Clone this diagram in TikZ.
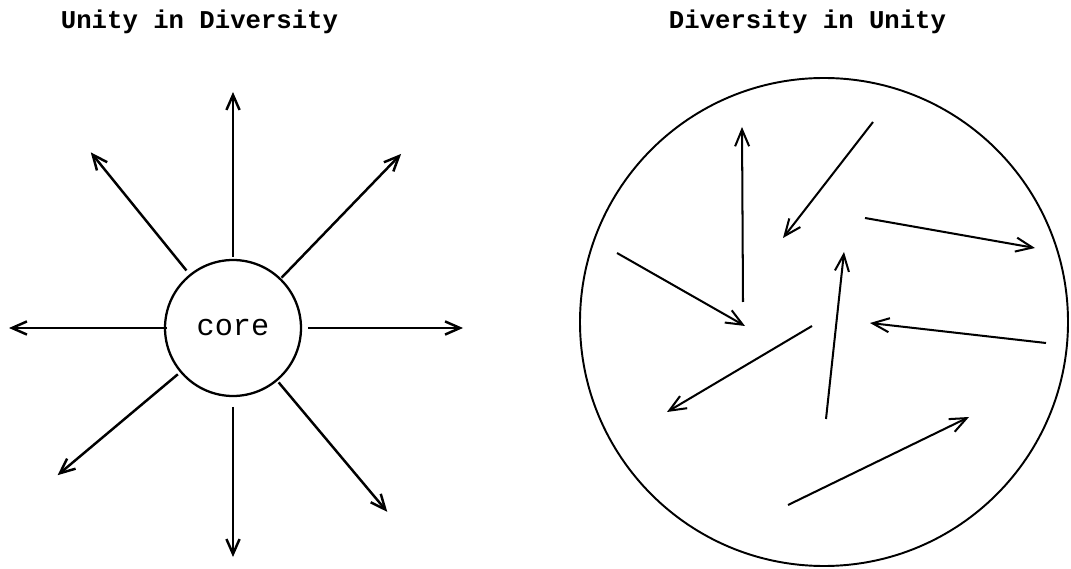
\documentclass[tikz,border=0pt]{standalone}
\usepackage{fontspec}
\setmonofont{Liberation Mono}
\usetikzlibrary{arrows.meta}
\begin{document}
\begin{tikzpicture}[x=.02cm,y=.02cm,
  ray/.style={line width=1.4pt,-{Straight Barb[length=8.5pt,width=7.5pt]}},
  drift/.style={line width=1.15pt,-{Straight Barb[length=9.5pt,width=8pt]}},
  heading/.style={font=\ttfamily\bfseries\fontsize{14.6}{17}\selectfont,anchor=base}]
\useasboundingbox (0,0) rectangle (1071,568);
\node[heading] (uid) at (199.5,539) {Unity in Diversity};
\node[heading] (diu) at (807.5,539) {Diversity in Unity};
% left: all rays leave the core
\node[draw,circle,line width=1.3pt,minimum size=2.72cm,inner sep=0pt,
  font=\ttfamily\fontsize{17.2}{20}\selectfont] (core) at (233,240) {core};
\foreach \a/\r/\R [count=\j] in {0/75/230,46/70/242,90/71/236,129/74/226,180/66/224,220/72/229,270/79/229,310/71/240} {
  \coordinate (s\j) at ([shift={(\a:\r)}]core.center);
  \coordinate (t\j) at ([shift={(\a:\R)}]core.center);
  \draw[ray] (s\j) -- (t\j);}
% right: arrows inside the whole
\draw[line width=1.1pt] (824,246) circle (244);
\foreach \xa/\ya/\xb/\yb [count=\j] in {743/266/742/441,873/446/783/330,865/350/1035/320,617/315/745/242,826/149/844/316,1046/225/870/245,812/242/667/156,788/63/969/151} {
  \coordinate (p\j) at (\xa,\ya);
  \coordinate (q\j) at (\xb,\yb);
  \draw[drift] (p\j) -- (q\j);}
\end{tikzpicture}
\end{document}
